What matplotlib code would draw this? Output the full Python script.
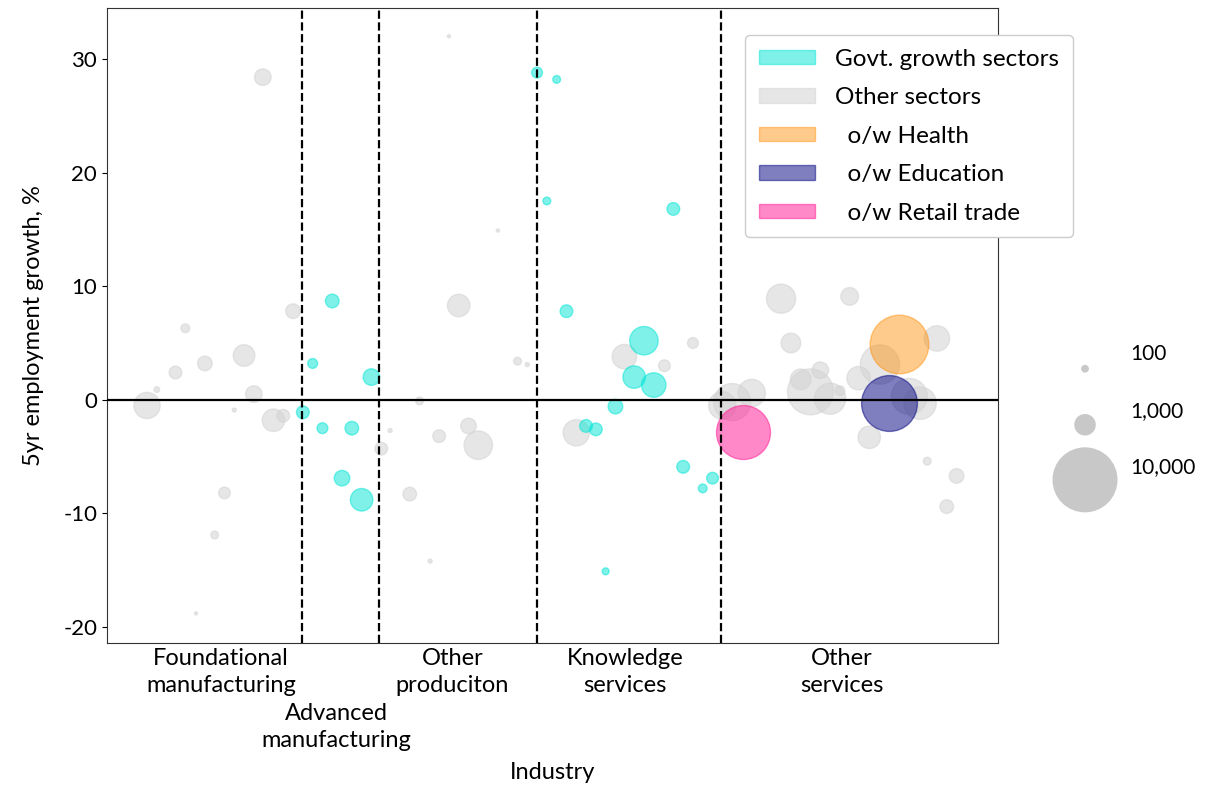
import numpy as np
import matplotlib.pyplot as plt
import matplotlib.patches as mpatches

plt.rcParams['font.family'] = ['Lato', 'DejaVu Sans']
plt.rcParams['axes.unicode_minus'] = False

# x position (arbitrary sector order units, 0-100), 5yr growth %, employment
other_x = [4.5, 5.6, 7.7, 8.8, 11.0, 15.4, 16.5, 14.3, 18.7, 19.8, 20.9, 13.2, 12.1, 10.0,
           17.5, 30.8, 31.8, 38.4, 43.9, 39.5, 46.1, 47.2, 35.1, 37.3, 40.6, 41.7, 34.0, 36.3,
           58.1, 65.8, 62.6, 52.7, 95.4, 94.3, 92.1, 75.7, 83.4, 76.8, 93.2, 86.8, 84.4, 80.1,
           77.9, 79.0, 81.2, 82.3, 72.4, 70.2, 69.1, 90.1, 91.3, 85.6]
other_y = [-0.5, 0.9, 2.4, 6.3, 3.2, 3.9, 0.5, -0.9, -1.8, -1.4, 7.8, -8.2, -11.9, -18.8,
           28.4, -4.3, -2.7, 32.0, 14.9, 8.3, 3.4, 3.1, -0.1, -3.2, -2.3, -4.0, -8.3, -14.2,
           3.8, 5.0, 3.0, -2.9, -6.7, -9.4, -5.4, 8.9, 9.1, 5.0, 5.4, 3.1, 1.9, 2.6,
           1.8, 0.7, 0.1, 0.8, 0.6, -0.2, -0.5, 0.3, -0.3, -3.3]
other_emp = [1700, 80, 400, 190, 530, 1150, 680, 40, 1250, 400, 530, 340, 150, 25,
             680, 400, 40, 25, 25, 1250, 150, 40, 150, 400, 600, 2000, 460, 40,
             1480, 290, 340, 1700, 530, 460, 150, 2100, 770, 950, 1600, 3800, 1350, 680,
             1050, 5200, 2400, 240, 1850, 3400, 1850, 3200, 2600, 1250]

govt_x = [22.0, 25.3, 23.1, 29.7, 24.2, 27.5, 26.4, 28.6, 48.3, 50.5, 49.4, 63.6, 51.6, 60.3,
          59.2, 61.4, 57.1, 53.8, 54.9, 64.7, 68.0, 66.9, 56.0]
govt_y = [-1.1, 8.7, 3.2, 2.0, -2.5, -2.5, -6.9, -8.8, 28.8, 28.2, 17.5, 16.8, 7.8, 5.2,
          2.0, 1.3, -0.6, -2.3, -2.6, -5.9, -6.9, -7.8, -15.1]
govt_emp = [400, 460, 240, 680, 290, 460, 600, 1250, 290, 150, 150, 400, 400, 2000,
            1250, 1480, 530, 400, 400, 400, 340, 190, 120]

health = (88.9, 4.9, 8500)
education = (87.8, -0.3, 7700)
retail = (71.4, -2.8, 7200)

boundaries = [21.9, 30.6, 48.3, 69.0]
tick_pos = [12.8, 38.8, 58.2, 82.5]
tick_labels = ['Foundational\nmanufacturing', 'Other\nproduciton',
               'Knowledge\nservices', 'Other\nservices']
# this one sits lower, below its neighbours
adv_pos = 25.8
adv_label = 'Advanced\nmanufacturing'
size_legend = [100, 1000, 10000]

k = 0.21  # points^2 per employee unit
cyan = '#00e5d5'

fig = plt.figure(figsize=(12.15, 7.85), dpi=100)
ax = fig.add_axes([0.088, 0.181, 0.733, 0.809])

ax.scatter(other_x, other_y, s=np.array(other_emp) * k, color='lightgray', alpha=0.55,
           edgecolors='lightgray', linewidths=1, zorder=2)
ax.scatter(govt_x, govt_y, s=np.array(govt_emp) * k, color=cyan, alpha=0.5,
           edgecolors=cyan, linewidths=1, zorder=3)
ax.scatter([health[0]], [health[1]], s=health[2] * k, color='darkorange', alpha=0.45,
           edgecolors='darkorange', linewidths=1, zorder=3)
ax.scatter([education[0]], [education[1]], s=education[2] * k, color='navy', alpha=0.5,
           edgecolors='navy', linewidths=1, zorder=3)
ax.scatter([retail[0]], [retail[1]], s=retail[2] * k, color='deeppink', alpha=0.5,
           edgecolors='deeppink', linewidths=1, zorder=3)

ax.axhline(0, color='black', linewidth=1.6, zorder=4)
for b in boundaries:
    ax.axvline(b, color='black', linestyle='--', linewidth=1.6, zorder=4)

ax.set_xlim(0, 100)
ax.set_ylim(-21.4, 34.5)
ax.set_yticks([-20, -10, 0, 10, 20, 30])
ax.set_xticks(tick_pos)
ax.set_xticklabels(tick_labels, linespacing=1.35)
ax.tick_params(axis='x', length=0, labelsize=17, pad=4)
ax.tick_params(axis='y', labelsize=16)
ax.text(adv_pos, -0.094, adv_label, transform=ax.get_xaxis_transform(), fontsize=17,
        ha='center', va='top', linespacing=1.35)
ax.set_xlabel('Industry', fontsize=17)
ax.xaxis.set_label_coords(0.5, -0.188)
ax.set_ylabel('5yr employment growth, %', fontsize=17, labelpad=14)
for sp in ax.spines.values():
    sp.set_color('#333333')

handles = [
    mpatches.Patch(facecolor=cyan, edgecolor=cyan, alpha=0.5, label='Govt. growth sectors'),
    mpatches.Patch(facecolor='lightgray', edgecolor='lightgray', alpha=0.55, label='Other sectors'),
    mpatches.Patch(facecolor='darkorange', edgecolor='darkorange', alpha=0.45, label='  o/w Health'),
    mpatches.Patch(facecolor='navy', edgecolor='navy', alpha=0.5, label='  o/w Education'),
    mpatches.Patch(facecolor='deeppink', edgecolor='deeppink', alpha=0.5, label='  o/w Retail trade'),
]
fig.legend(handles=handles, loc='upper left', bbox_to_anchor=(745 / 1215, 1 - 35 / 785),
           borderaxespad=0, borderpad=0.56, fontsize=17.5, handlelength=2.3,
           handleheight=0.55, handletextpad=0.85, labelspacing=0.72, framealpha=1,
           edgecolor='#cccccc')

# bubble size legend
lax = fig.add_axes([0.856, 0.325, 0.144, 0.255])
lax.set_xlim(0, 1)
lax.set_ylim(0, 1)
lax.axis('off')
circ_y = [0.805, 0.525, 0.25]
text_y = [0.88, 0.595, 0.315]
lax.scatter([0.257] * 3, circ_y, s=np.array(size_legend) * k, color='#c8c8c8',
            clip_on=False)
for v, ty in zip(size_legend, text_y):
    lax.text(0.514, ty, f'{v:,}', fontsize=15, va='center', ha='left')

fig.savefig('out.png', dpi=100)
